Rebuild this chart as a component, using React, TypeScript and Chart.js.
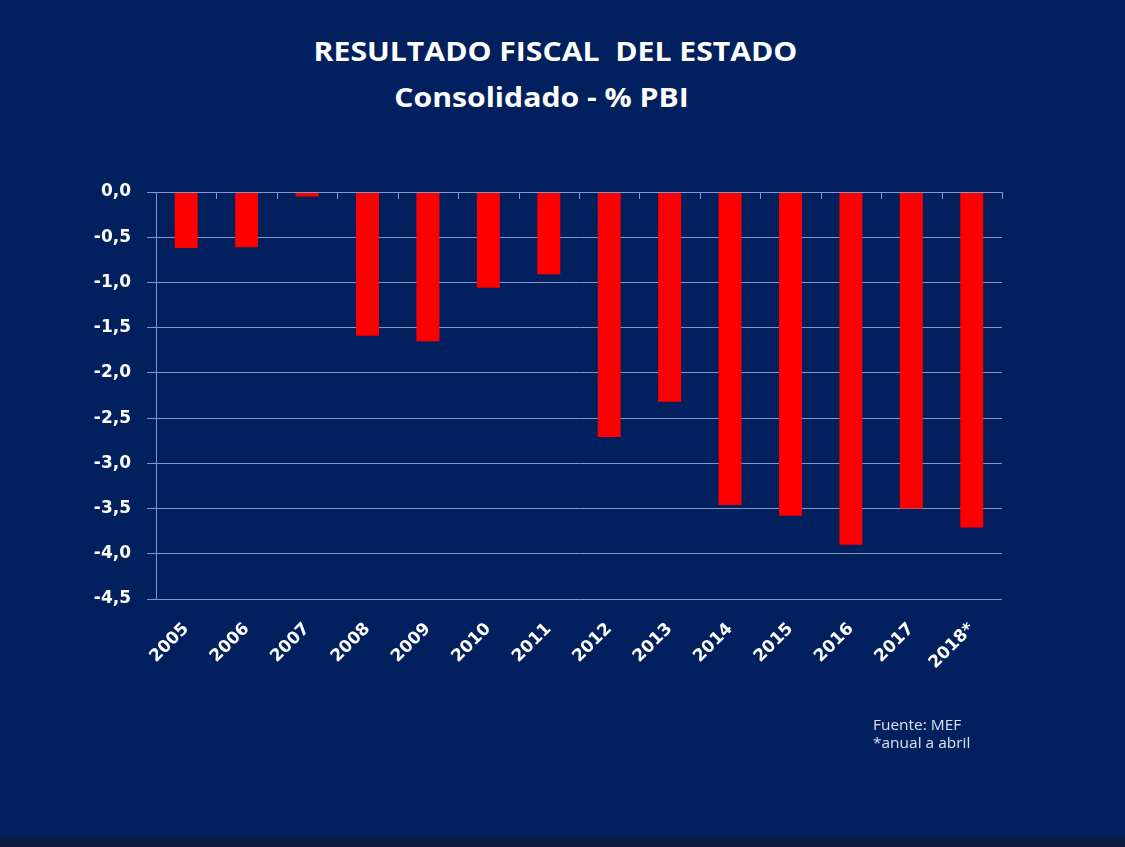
import React, { useEffect, useRef } from "react";
import { Chart, registerables } from "chart.js";

Chart.register(...registerables);

const categories: string[] = ["2005", "2006", "2007", "2008", "2009", "2010", "2011", "2012", "2013", "2014", "2015", "2016", "2017", "2018*"];
const resultadoFiscal: number[] = [-0.62, -0.61, -0.05, -1.59, -1.65, -1.06, -0.91, -2.71, -2.32, -3.46, -3.58, -3.9, -3.5, -3.71];
const yTickMin = -4.5;
const yTickMax = 0;
const yTickStep = 0.5;
const titleLines: string[] = ["RESULTADO FISCAL\u00a0\u00a0DEL ESTADO", "Consolidado - % PBI"];
const footnoteLines: string[] = ["Fuente:\u00a0MEF", "*anual\u00a0a abril"];

const BG = "#02205e";
const GRID = "#8497c8";

const categoryTicks = {
  id: "categoryTicks",
  afterDatasetsDraw(chart: any) {
    const x = chart.scales.x;
    const y = chart.scales.y;
    const ctx = chart.ctx;
    const y0 = y.getPixelForValue(0);
    const n = chart.data.labels.length;
    ctx.save();
    ctx.strokeStyle = GRID;
    ctx.lineWidth = 1;
    ctx.beginPath();
    for (let i = 0; i <= n; i++) {
      let px: number;
      if (i === 0) px = chart.chartArea.left;
      else if (i === n) px = chart.chartArea.right;
      else px = (x.getPixelForValue(i - 1) + x.getPixelForValue(i)) / 2;
      px = Math.round(px) + 0.5;
      ctx.moveTo(px, y0);
      ctx.lineTo(px, y0 + 7);
    }
    ctx.moveTo(chart.chartArea.left, Math.round(y0) + 0.5);
    ctx.lineTo(chart.chartArea.right, Math.round(y0) + 0.5);
    ctx.stroke();
    ctx.restore();
  },
};

export default function App() {
  const canvasRef = useRef<HTMLCanvasElement | null>(null);

  useEffect(() => {
    document.body.style.margin = "0";
    const canvas = canvasRef.current;
    if (!canvas) return;
    const chart = new Chart(canvas, {
      type: "bar",
      data: {
        labels: categories,
        datasets: [
          {
            label: "Resultado fiscal (% PBI)",
            data: resultadoFiscal,
            backgroundColor: "#ff0000",
            borderWidth: 0,
            barPercentage: 0.38,
            categoryPercentage: 1,
          },
        ],
      },
      options: {
        responsive: false,
        animation: false,
        layout: { padding: { left: 0, top: 192, right: 123, bottom: 120 } },
        plugins: {
          legend: { display: false },
          title: { display: false },
          tooltip: { enabled: false },
        },
        scales: {
          x: {
            type: "category",
            grid: { display: false, drawTicks: false },
            border: { display: false },
            ticks: {
              color: "#ffffff",
              font: { family: "DejaVu Sans", weight: "bold", size: 17 },
              minRotation: 45,
              maxRotation: 45,
              padding: 20,
              autoSkip: false,
            },
            afterFit: (scale: any) => {
              scale.height = 847 - 599 - 120;
            },
          },
          y: {
            min: yTickMin,
            max: yTickMax,
            grid: { color: GRID, lineWidth: 1, tickLength: 9 },
            border: { display: true, color: GRID, width: 1 },
            ticks: {
              stepSize: yTickStep,
              color: "#ffffff",
              font: { family: "DejaVu Sans", weight: "bold", size: 17 },
              padding: 16,
              callback: (v: any) => Number(v).toFixed(1).replace(".", ","),
            },
            afterFit: (scale: any) => {
              scale.width = 156;
            },
          },
        },
      },
      plugins: [categoryTicks],
    });
    return () => chart.destroy();
  }, []);

  return (
    <div
      style={{
        position: "fixed",
        left: 0,
        top: 0,
        width: 1125,
        height: 847,
        background: `linear-gradient(to bottom, ${BG} 0px, ${BG} 834px, #0e1a40 842px, #0e1a40 847px)`,
        overflow: "hidden",
      }}
    >
      <div
        style={{
          position: "absolute",
          left: 0,
          top: 28,
          width: 1125,
          textAlign: "center",
          color: "#ffffff",
          fontFamily: "'Open Sans', sans-serif",
          fontWeight: 700,
          fontSize: 26,
          lineHeight: "46px",
        }}
      >
        <div style={{ transform: "translateX(-7px) scaleX(1.16)" }}>{titleLines[0]}</div>
        <div style={{ transform: "translateX(-21px) scaleX(1.16)" }}>{titleLines[1]}</div>
      </div>
      <canvas ref={canvasRef} width={1125} height={847} style={{ position: "absolute", left: 0, top: 0, width: 1125, height: 847 }} />
      <div
        style={{
          position: "absolute",
          left: 873,
          top: 715,
          color: "#dbe3f3",
          fontFamily: "'Open Sans', sans-serif",
          fontSize: 15,
          lineHeight: "18px",
          transform: "scaleX(1.03)",
          transformOrigin: "left top",
          whiteSpace: "nowrap",
        }}
      >
        <div>{footnoteLines[0]}</div>
        <div>{footnoteLines[1]}</div>
      </div>
    </div>
  );
}
